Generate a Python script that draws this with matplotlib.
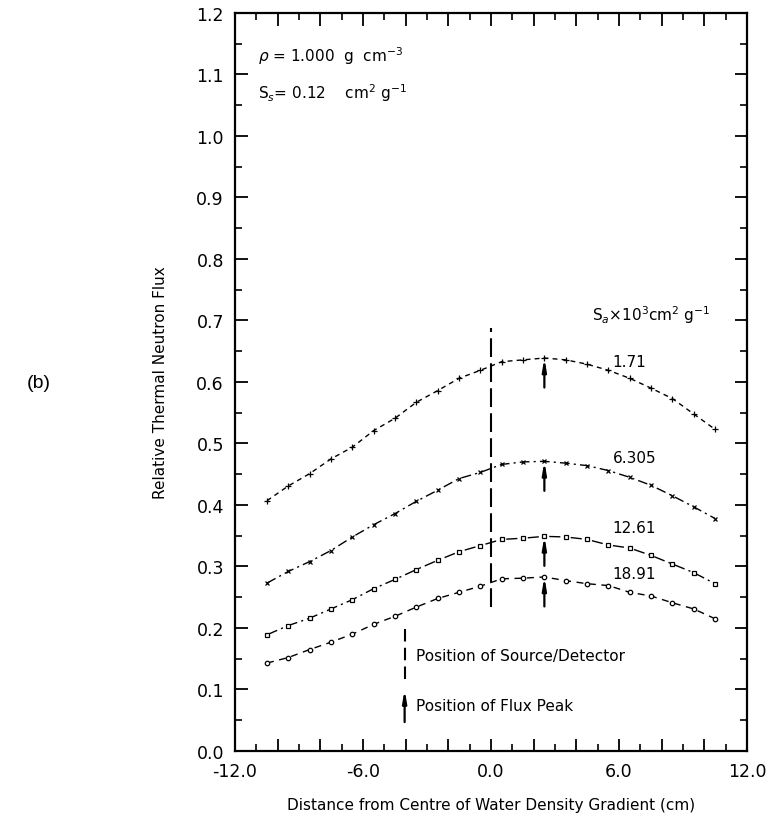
import numpy as np
import matplotlib
matplotlib.use('Agg')
import matplotlib.pyplot as plt
from matplotlib.ticker import MultipleLocator, FuncFormatter

# Sample positions along the gradient (cm)
x = np.arange(-10.5, 11.0, 1.0)

# Relative thermal neutron flux for each absorption cross-section
flux_171 = [0.407, 0.431, 0.451, 0.475, 0.494, 0.521, 0.541, 0.567, 0.586, 0.606, 0.619,
            0.633, 0.636, 0.639, 0.636, 0.629, 0.619, 0.606, 0.590, 0.573, 0.548, 0.523]
flux_6305 = [0.273, 0.292, 0.308, 0.326, 0.348, 0.368, 0.386, 0.406, 0.424, 0.443, 0.453,
             0.466, 0.470, 0.471, 0.468, 0.464, 0.456, 0.445, 0.432, 0.415, 0.397, 0.378]
flux_1261 = [0.189, 0.204, 0.216, 0.231, 0.246, 0.264, 0.279, 0.295, 0.310, 0.324, 0.334,
             0.344, 0.346, 0.349, 0.348, 0.344, 0.335, 0.330, 0.318, 0.304, 0.290, 0.272]
flux_1891 = [0.143, 0.152, 0.165, 0.177, 0.190, 0.206, 0.219, 0.234, 0.248, 0.258, 0.268,
             0.280, 0.281, 0.283, 0.277, 0.272, 0.269, 0.258, 0.252, 0.241, 0.231, 0.215]
labels = ['1.71', '6.305', '12.61', '18.91']

peak_x = 2.5      # flux peak position (cm)
source_x = 0.0    # source/detector position (cm)

series = [flux_171, flux_6305, flux_1261, flux_1891]
styles = [
    dict(dashes=(3.5, 3.0), marker='+', ms=4, mew=0.9),
    dict(dashes=(7, 3, 1.5, 3), marker='x', ms=3.5, mew=0.9),
    dict(dashes=(8, 3, 1.5, 3), marker='s', ms=2.8, mew=0.9, mfc='white'),
    dict(dashes=(5, 4), marker='o', ms=3.2, mew=0.9, mfc='white'),
]
label_y = [0.634, 0.477, 0.363, 0.288]

plt.rcParams['font.family'] = ['DejaVu Sans']
fig = plt.figure(figsize=(7.67, 8.28), dpi=100)
ax = fig.add_axes([0.3064, 0.0918, 0.6676, 0.8913])

for y, st in zip(series, styles):
    ax.plot(x, y, color='black', lw=1.0, **st)

# Arrows marking the flux peak on each curve
peak_idx = int(np.argmin(np.abs(x - peak_x)))
for y in series:
    top = y[peak_idx]
    ax.annotate('', xy=(peak_x, top), xytext=(peak_x, top - 0.048),
                arrowprops=dict(arrowstyle='-|>,head_length=0.7,head_width=0.12',
                                color='black', lw=1.6, shrinkA=0, shrinkB=0))

# Source/detector position
ax.plot([source_x, source_x], [0.234, 0.687], color='black', lw=1.5, dashes=(9, 3))

for lab, ly in zip(labels, label_y):
    ax.text(5.7, ly, lab, fontsize=11, va='center', ha='left')

ax.text(4.75, 0.71, r'S$_a$$\times$10$^3$cm$^2$ g$^{-1}$', fontsize=11, va='center', ha='left')
ax.text(-10.9, 1.131, r'$\rho$ = 1.000  g  cm$^{-3}$', fontsize=11, va='center', ha='left')
ax.text(-10.9, 1.071, r'S$_s$= 0.12    cm$^2$ g$^{-1}$', fontsize=11, va='center', ha='left')

# Key for the marker lines
ax.plot([-4.05, -4.05], [0.117, 0.199], color='black', lw=1.5, dashes=(6, 3))
ax.text(-3.5, 0.155, 'Position of Source/Detector', fontsize=11, va='center', ha='left')
ax.annotate('', xy=(-4.05, 0.1), xytext=(-4.05, 0.047),
            arrowprops=dict(arrowstyle='-|>,head_length=0.7,head_width=0.12',
                            color='black', lw=1.6, shrinkA=0, shrinkB=0))
ax.text(-3.5, 0.074, 'Position of Flux Peak', fontsize=11, va='center', ha='left')

ax.set_xlim(-12, 12)
ax.set_ylim(0, 1.2)

# big ticks every 2 cm, labelled every 6 cm; small ticks every 1 cm
ax.xaxis.set_major_locator(MultipleLocator(2))
ax.xaxis.set_minor_locator(MultipleLocator(1))
ax.xaxis.set_major_formatter(FuncFormatter(
    lambda v, p: f'{v:.1f}' if abs(v % 6) < 1e-6 or abs(v % 6 - 6) < 1e-6 else ''))
ax.yaxis.set_major_locator(MultipleLocator(0.1))
ax.yaxis.set_minor_locator(MultipleLocator(0.05))
ax.yaxis.set_major_formatter(FuncFormatter(lambda v, p: f'{v:.1f}'))
ax.tick_params(which='both', direction='in', top=True, right=True, labelsize=12.5, pad=8)
ax.tick_params(which='major', length=9, width=1.3)
ax.tick_params(which='minor', length=5, width=1.2)
for s in ax.spines.values():
    s.set_linewidth(1.6)

ax.set_xlabel('Distance from Centre of Water Density Gradient (cm)', fontsize=11, labelpad=12)
ax.set_ylabel('Relative Thermal Neutron Flux', fontsize=11, labelpad=20)

fig.text(0.05, 0.537, '(b)', fontsize=14, family='Liberation Sans', va='center', ha='center')

fig.savefig('out.png', dpi=100)
